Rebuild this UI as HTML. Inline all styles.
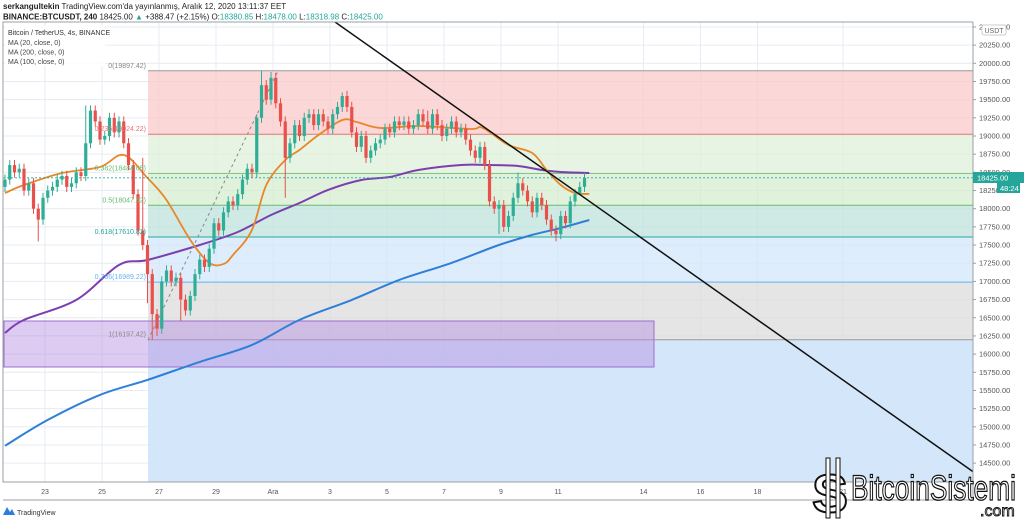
<!DOCTYPE html>
<html><head><meta charset="utf-8">
<style>
html,body{margin:0;padding:0;background:#fff;}
body{width:1024px;height:521px;overflow:hidden;position:relative;font-family:"Liberation Sans",sans-serif;}
svg{position:absolute;left:0;top:0;}
</style></head>
<body>
<svg id="chart" width="1024" height="521" viewBox="0 0 1024 521" xmlns="http://www.w3.org/2000/svg" font-family="Liberation Sans, sans-serif">
  <text x="3" y="9" font-size="8" fill="#222"><tspan font-weight="bold">serkangultekin</tspan> TradingView.com'da yayınlanmış, Aralık 12, 2020 13:11:37 EET</text>
  <text x="3" y="19.5" font-size="8" fill="#222"><tspan font-weight="bold">BINANCE:BTCUSDT, 240</tspan> 18425.00 <tspan fill="#26a69a">▲</tspan> +388.47 (+2.15%) O:<tspan fill="#26a69a">18380.85</tspan> H:<tspan fill="#26a69a">18478.00</tspan> L:<tspan fill="#26a69a">18318.98</tspan> C:<tspan fill="#26a69a">18425.00</tspan></text>
  <g id="grid"></g>
  <g id="fib"></g>
  <rect x="4" y="321" width="650" height="46" fill="#b48be0" fill-opacity="0.45" stroke="#9c6fd0" stroke-width="1"/>
  <g id="mas"></g>
  <g id="candles"></g>
  <line x1="148" y1="340" x2="278" y2="71" stroke="#888" stroke-width="1" stroke-dasharray="3,3"/>
  <line x1="335" y1="22" x2="982" y2="478" stroke="#111" stroke-width="1.5"/>
  <g id="fiblabels"></g>
  <rect x="3" y="22" width="970" height="460" fill="none" stroke="#9aa0a6" stroke-width="1"/>
  <rect x="973" y="0" width="51" height="521" fill="#fff"/>
  <line x1="973" y1="22" x2="973" y2="500" stroke="#9aa0a6"/>
  <line x1="3" y1="500" x2="973" y2="500" stroke="#9aa0a6"/>
  <line x1="3" y1="482" x2="973" y2="482" stroke="#9aa0a6"/>
  <g id="yaxis"></g>
  <g id="xaxis"></g>
  <rect x="982" y="25" width="24" height="10" rx="2" fill="#fff" stroke="#ccc"/>
  <text x="994" y="33" font-size="7" fill="#666" text-anchor="middle">USDT</text>
  <rect x="973" y="172" width="51" height="11" fill="#26a69a"/>
  <text x="977" y="180.5" font-size="7.5" fill="#fff">18425.00</text>
  <rect x="997" y="183" width="23" height="10" fill="#26a69a"/>
  <text x="1000" y="191" font-size="7.5" fill="#fff">48:24</text>
  <rect x="5" y="26" width="100" height="40" fill="#fff" fill-opacity="0.85"/>
  <text x="8" y="35" font-size="7" fill="#333">Bitcoin / TetherUS, 4s, BINANCE</text>
  <text x="8" y="45" font-size="7" fill="#444">MA (20, close, 0)</text>
  <text x="8" y="54.5" font-size="7" fill="#444">MA (200, close, 0)</text>
  <text x="8" y="64" font-size="7" fill="#444">MA (100, close, 0)</text>
  <g>
    <path d="M3 515 L7 507 L10 512 L12 509 L15 515 Z" fill="#2a7de1"/>
    <text x="17" y="515" font-size="7" fill="#333">TradingView</text>
  </g>
  <g>
    <text x="812" y="512" font-size="54" font-weight="bold" fill="#fff" stroke="#111" stroke-width="2">S</text>
    <rect x="826" y="458" width="4" height="60" fill="#fff" stroke="#111" stroke-width="1"/>
    <rect x="836" y="458" width="4" height="60" fill="#fff" stroke="#111" stroke-width="1"/>
    <text x="851" y="500" font-size="35" fill="#fff" stroke="#111" stroke-width="1.3" textLength="165" lengthAdjust="spacingAndGlyphs">BitcoinSistemi</text>
    <text x="980" y="516" font-size="16" fill="#fff" stroke="#111" stroke-width="0.9">.com</text>
  </g>
</svg>
<script>
const NS='http://www.w3.org/2000/svg';
// ---- data ----
const closes=[18400,18600,18500,18550,18250,18350,
18000,17850,18150,18250,18300,18400,
18450,18300,18350,18500,18450,18900,
19350,19200,18950,19000,19250,19050,
19200,18900,18600,18200,17700,17500,
17100,16550,16350,17000,17150,17000,
17050,16750,16600,16800,17100,17300,
17200,17450,17800,17700,17950,18100,
18050,18200,18400,18550,18500,19250,
19700,19500,19800,19450,19200,18700,
18900,19150,19000,19250,19300,19150,
19300,19200,19100,19300,19400,19550,
19400,19050,18850,19000,18700,18800,
18900,18950,19100,19050,19200,19150,
19200,19100,19150,19300,19200,19100,
19300,19150,19000,19100,19200,19050,
19100,18950,18800,18700,18850,18600,
18100,18000,18050,17750,17900,18150,
18350,18250,18100,17950,18150,18050,
17850,17700,17650,17900,17800,18100,
18200,18300,18425];
const firstOpen=18300;
const highOverrides={17:19420,29:18700,53:19300,54:19897,56:19880,71:19600,89:19350,108:18500};
const lowOverrides={7:17550,30:16700,31:16197,32:16250,37:16450,59:18150,104:17650,116:17550,121:18230};
const ma20Idx=[0,4,12,20,25,30,34,39,43,46,48,52,55,59,62,66,71,74,79,87,98,100,102,106,111,114,117,120,123];
const ma20Val=[18216,18326,18491,18574,18739,18422,18120,17570,17254,17240,17364,17708,18326,18670,18808,19014,19220,19193,19110,19138,19096,19124,19055,18876,18766,18533,18326,18216,18203];
const ma100Idx=[0,4,15,24,30,41,49,56,62,68,75,81,87,96,102,108,113,117,123];
const ma100Val=[16291,16470,16745,17226,17295,17501,17680,17914,18079,18258,18395,18436,18533,18601,18601,18588,18533,18505,18491];
const ma200Idx=[0,9,20,30,41,52,62,73,83,94,104,111,117,123];
const ma200Val=[14738,15095,15439,15645,15893,16126,16470,16745,17020,17254,17501,17639,17735,17845];
const fibRatios=['0','0.236','0.382','0.5','0.618','0.786','1'];
const fibPrices=[19897.42,19024.22,18484.05,18047.42,17610.82,16989.22,16197.42];
const yTicks=[14500,14750,15000,15250,15500,15750,16000,16250,16500,16750,17000,17250,17500,17750,18000,18250,18500,18750,19000,19250,19500,19750,20000,20250,20500];
const xTickLabels=['23','25','27','29','Ara','3','5','7','9','11','14','16','18','21'];
const xTickDays=[-8,-6,-4,-2,0,2,4,6,8,10,13,15,17,20];
// ---- scales ----
function yOf(p){return 136+(19000-p)*0.0727;}
function xOf(i){return 5+i*4.75;}
function xDay(d){return 273+d*28.5;}
function mk(tag,attrs,parent){const e=document.createElementNS(NS,tag);for(const k in attrs)e.setAttribute(k,attrs[k]);parent.appendChild(e);return e;}
const g=id=>document.getElementById(id);
// grid
yTicks.forEach(p=>{const y=yOf(p);if(y<22||y>482)return;
 const l=mk('line',{x1:3,x2:973,y1:y,y2:y,stroke:'#e6ecf2','stroke-width':1},g('grid'));
 
 });
xTickDays.forEach(d=>{const x=xDay(d);
 const l=mk('line',{x1:x,x2:x,y1:22,y2:482,stroke:'#e6ecf2','stroke-width':1},g('grid'));
 
 });
// fib zones
const fibFills=['#f9c9c9','#dff0da','#d5ecd0','#bfe3dc','#d3e7fb','#dcdcdc'];
const fibLines=['#999','#e57373','#81c784','#66bb6a','#26a69a','#64b5f6','#999'];
const fibLabelColors=['#888','#e57373','#66bb6a','#66bb6a','#26a69a','#64b5f6','#888'];
const fx0=148,fx1=973;
for(let k=0;k<fibPrices.length-1;k++){
 const y0=yOf(fibPrices[k]),y1=yOf(fibPrices[k+1]);
 const r=mk('rect',{x:fx0,y:y0,width:fx1-fx0,height:y1-y0,fill:fibFills[k],'fill-opacity':0.75},g('fib'));
 
 
}
{const y=yOf(fibPrices[6]);
 const r=mk('rect',{x:fx0,y:y,width:fx1-fx0,height:482-y,fill:'#cfe4fa','fill-opacity':0.9},g('fib'));
 
 }
fibPrices.forEach((p,k)=>{const y=yOf(p);
 const l=mk('line',{x1:fx0,x2:fx1,y1:y,y2:y,stroke:fibLines[k],'stroke-width':1},g('fib'));
 
 
 const t=mk('text',{x:146,y:y-3,'font-size':7,fill:fibLabelColors[k],'text-anchor':'end'},g('fiblabels'));
 t.textContent=fibRatios[k]+'('+p.toFixed(2)+')';
 
 });
// MAs (smoothed catmull-rom)
function maPath(idx,val,color,name,w){
 const P=idx.map((i,k)=>[xOf(i),yOf(val[k])]);
 let d='M'+P[0][0].toFixed(1)+' '+P[0][1].toFixed(1);
 for(let k=0;k<P.length-1;k++){
  const p0=P[Math.max(0,k-1)],p1=P[k],p2=P[k+1],p3=P[Math.min(P.length-1,k+2)];
  const c1=[p1[0]+(p2[0]-p0[0])/6,p1[1]+(p2[1]-p0[1])/6];
  const c2=[p2[0]-(p3[0]-p1[0])/6,p2[1]-(p3[1]-p1[1])/6];
  d+=' C'+c1[0].toFixed(1)+' '+c1[1].toFixed(1)+' '+c2[0].toFixed(1)+' '+c2[1].toFixed(1)+' '+p2[0].toFixed(1)+' '+p2[1].toFixed(1);
 }
 const p=mk('path',{d:d,fill:'none',stroke:color,'stroke-width':w,'stroke-linejoin':'round'},g('mas'));
 
 }
maPath(ma200Idx,ma200Val,'#2f7fd8','ma200-line',2);
maPath(ma100Idx,ma100Val,'#7b3fb0','ma100-line',2);
maPath(ma20Idx,ma20Val,'#e8872a','ma20-line',1.8);
// last price dashed
{const y=yOf(closes[closes.length-1]);
 const l=mk('line',{x1:3,x2:973,y1:y,y2:y,stroke:'#26a69a','stroke-width':0.8,'stroke-dasharray':'2,2'},g('mas'));
 
 }
// candles
closes.forEach((c,i)=>{
 const o=i?closes[i-1]:firstOpen;
 const hi=highOverrides[i]!==undefined?highOverrides[i]:Math.max(o,c)+70;
 const lo=lowOverrides[i]!==undefined?lowOverrides[i]:Math.min(o,c)-70;
 const up=c>=o, col=up?'#2fae97':'#e8504c', x=xOf(i);
 const w=mk('line',{x1:x,x2:x,y1:yOf(hi),y2:yOf(lo),stroke:col,'stroke-width':1},g('candles'));
 
 
 const yt=yOf(Math.max(o,c)),yb=yOf(Math.min(o,c));
 const b=mk('rect',{x:x-1.6,y:yt,width:3.2,height:Math.max(1,yb-yt),fill:col},g('candles'));
 
 
});
// axes
yTicks.forEach(p=>{const y=yOf(p);if(y<20||y>482)return;
 const tk=mk('line',{x1:973,x2:976,y1:y,y2:y,stroke:'#9aa0a6'},g('yaxis'));
 
 
 const t=mk('text',{x:979,y:y+2.5,'font-size':7.5,fill:'#555'},g('yaxis'));
 t.textContent=p.toFixed(2);
 
 });
xTickLabels.forEach((s,k)=>{const x=xDay(xTickDays[k]);
 const t=mk('text',{x:x,y:494,'font-size':7,fill:'#555','text-anchor':'middle'},g('xaxis'));
 t.textContent=s;
 
 });
</script>
</body></html>
